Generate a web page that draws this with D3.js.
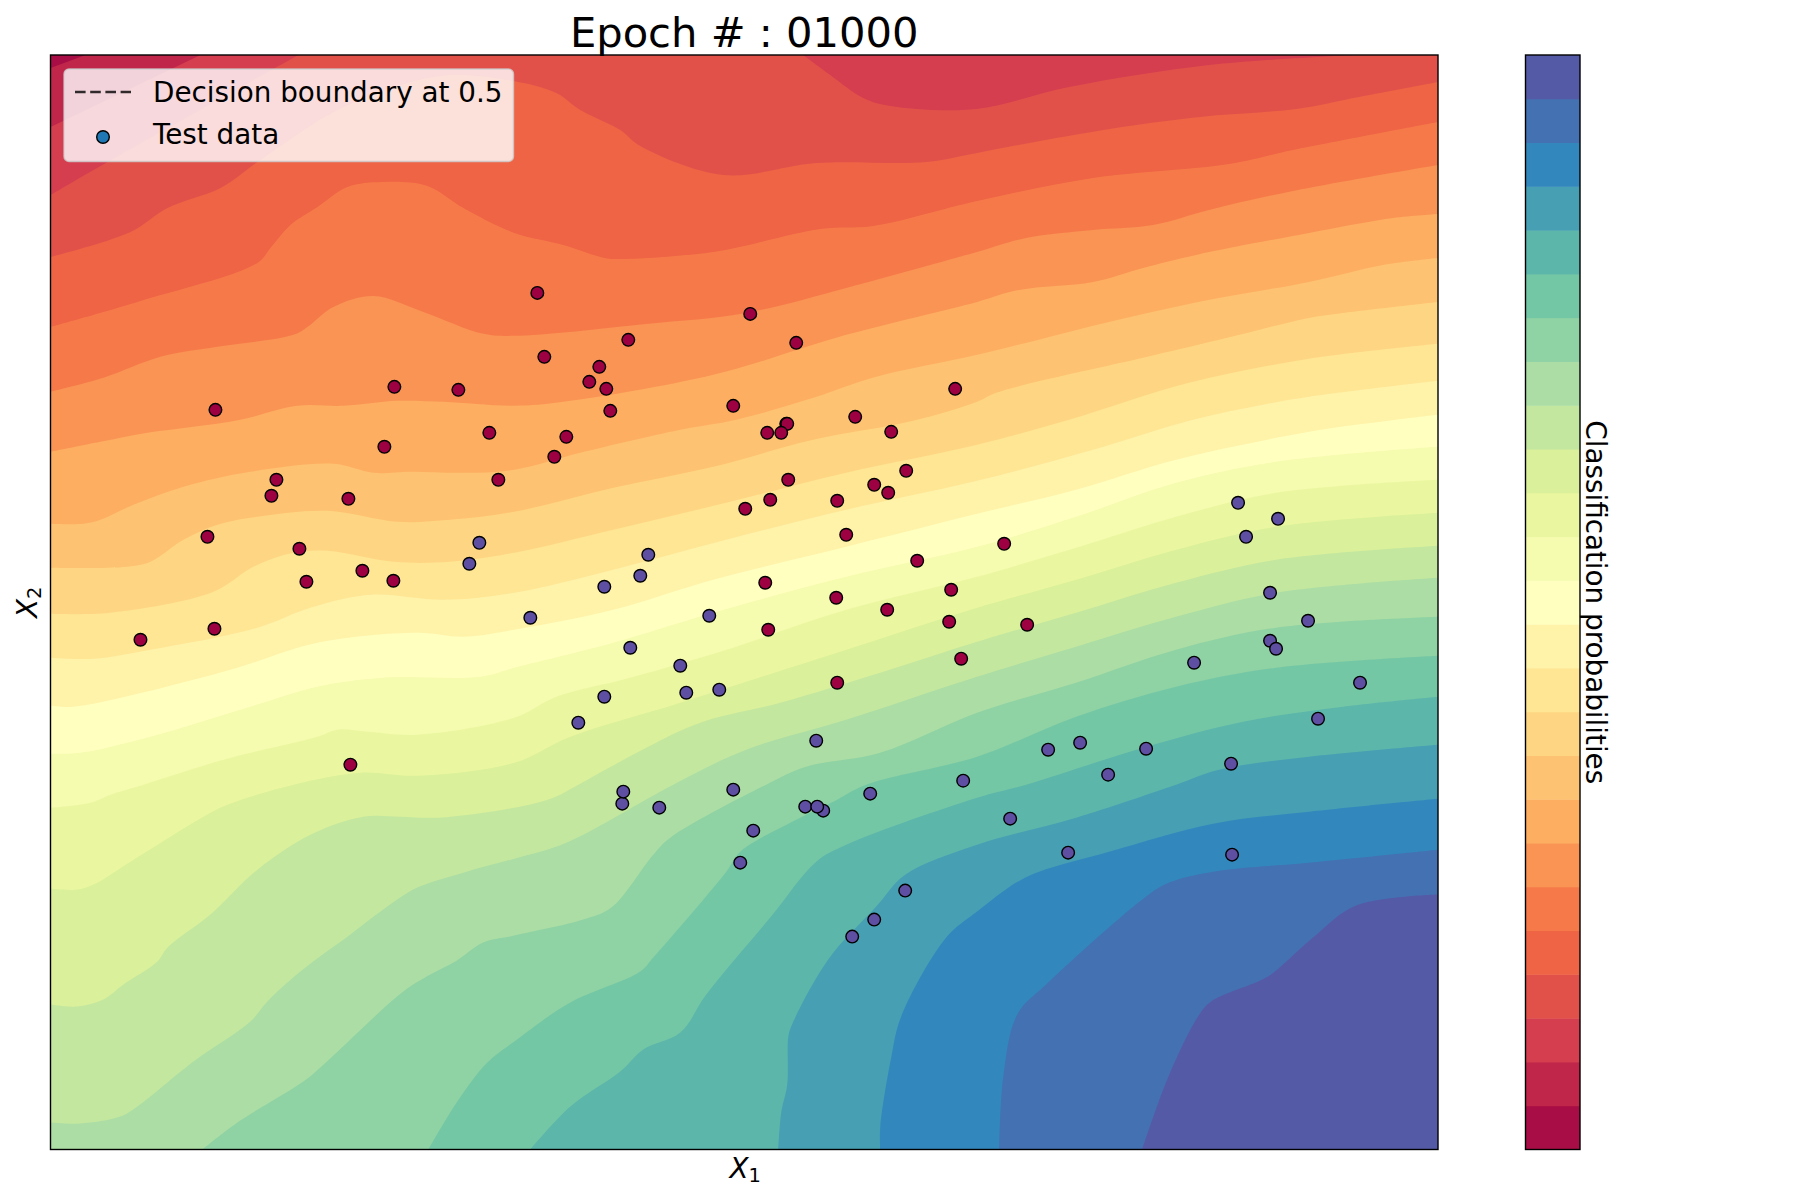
<!DOCTYPE html>
<html>
<head>
<meta charset="utf-8">
<title>Epoch # : 01000</title>
<script src="https://cdn.jsdelivr.net/npm/d3@7"></script>
<style>
  html, body { margin: 0; padding: 0; background: #fff; }
  text { font-family: "DejaVu Sans", sans-serif; fill: #000; }
</style>
</head>
<body>
<div id="chart"></div>
<script>
// Matplotlib "Spectral" anchor colours
const spectralStops = ['#9e0142', '#d53e4f', '#f46d43', '#fdae61', '#fee08b', '#ffffbf',
  '#e6f598', '#abdda4', '#66c2a5', '#3288bd', '#5e4fa2'];
const bandCount = 25;

// Contour lines between neighbouring bands, [X1, X2].
// Each one runs from the left/bottom edge to the top/right edge.
const level01 = [[0,1082],[35,1095]];
const level02 = [[0,1023],[150,1095]];
const level03 = [[0,955],[57,988],[248,1095]];
const level04 = [[0,893],[80,918],[117,942],[170,962],[207,988],[283,1038],[350,1065],[400,1075],[463,1069],[506,1057],[530,1040],[570,1020],[590,1004],[673,975],[766,987],[876,988],[927,997],[1006,1012],[1093,1026],[1159,1034],[1246,1041],[1309,1053],[1388,1068]];
const level05 = [[0,823],[87,848],[207,887],[220,902],[240,925],[267,943],[297,963],[333,968],[377,964],[413,942],[464,917],[513,905],[550,893],[563,891],[663,898],[770,921],[823,924],[927,949],[1043,972],[1179,986],[1243,1000],[1388,1028]];
const level06 = [[0,758],[53,772],[110,793],[167,803],[243,815],[257,823],[283,843],[323,854],[373,838],[433,816],[464,814],[596,826],[696,837],[796,862],[927,898],[976,912],[1043,920],[1103,925],[1159,940],[1243,959],[1388,985]];
const level07 = [[0,698],[50,708],[97,717],[143,723],[190,730],[247,744],[293,744],[347,749],[393,748],[464,744],[513,748],[663,775],[796,815],[927,848],[969,860],[1043,868],[1093,882],[1146,895],[1259,917],[1343,932],[1388,936]];
const level08 = [[0,626],[33,626],[50,630],[83,645],[133,663],[200,678],[283,686],[323,677],[360,678],[413,677],[464,680],[530,697],[630,720],[686,730],[763,752],[826,773],[927,795],[1059,828],[1153,849],[1259,868],[1333,885],[1388,892]];
const level09 = [[0,582],[77,583],[100,588],[133,610],[167,625],[207,633],[277,639],[347,628],[400,630],[464,638],[563,662],[663,683],[763,710],[863,729],[927,748],[946,757],[1093,792],[1169,810],[1259,832],[1293,837],[1388,848]];
const level10 = [[0,536],[60,537],[163,558],[203,583],[243,597],[277,599],[343,588],[400,588],[464,597],[563,620],[676,647],[796,677],[927,705],[1019,730],[1139,767],[1259,791],[1388,806]];
const level11 = [[0,492],[43,491],[100,500],[207,522],[260,542],[320,555],[393,550],[464,557],[563,580],[676,610],[796,640],[927,669],[1043,700],[1143,730],[1213,745],[1259,753],[1388,769]];
const level12 = [[0,444],[23,443],[83,455],[187,482],[267,507],[367,517],[413,513],[464,520],[563,540],[663,570],[796,603],[927,636],[1026,660],[1126,690],[1259,718],[1346,730],[1388,735]];
const level13 = [[0,396],[30,397],[100,413],[200,443],[267,463],[333,472],[430,473],[464,482],[563,507],[663,537],[796,573],[927,603],[1026,633],[1126,667],[1226,688],[1388,703]];
const level14 = [[0,342],[40,347],[60,355],[93,365],[173,390],[267,413],[287,420],[317,418],[367,415],[464,432],[506,453],[580,472],[676,500],[796,540],[927,573],[1026,602],[1126,633],[1226,657],[1388,670]];
const level15 = [[0,261],[27,260],[43,265],[80,288],[153,333],[177,345],[243,365],[310,377],[367,374],[464,387],[520,413],[630,447],[796,500],[927,542],[1026,570],[1126,600],[1226,623],[1388,637]];
const level16 = [[0,145],[27,143],[53,150],[73,165],[107,188],[117,202],[160,235],[207,280],[260,315],[313,333],[350,333],[388,332],[464,342],[503,352],[528,365],[596,402],[650,427],[730,447],[830,477],[927,508],[1026,537],[1126,567],[1226,590],[1388,604]];
const level17 = [[0,27],[30,26],[70,33],[87,43],[143,88],[200,128],[217,148],[250,178],[300,215],[337,243],[367,262],[413,277],[464,291],[516,307],[623,365],[696,400],[796,430],[927,473],[1026,503],[1126,533],[1226,557],[1388,572]];
const level18 = [[152,0],[187,27],[253,68],[270,82],[353,158],[380,175],[405,188],[433,207],[464,214],[533,230],[561,242],[603,295],[620,312],[716,365],[756,383],[830,397],[927,437],[1026,467],[1126,500],[1226,522],[1388,533]];
const level19 = [[378,0],[407,48],[437,87],[464,108],[520,147],[590,178],[603,192],[676,278],[690,298],[750,332],[783,348],[816,365],[927,393],[1026,433],[1126,463],[1226,482],[1388,494]];
const level20 = [[480,0],[520,43],[570,78],[593,100],[630,117],[656,155],[720,232],[766,288],[796,305],[927,352],[976,365],[1093,402],[1193,428],[1293,443],[1388,453]];
const level21 = [[728,0],[731,37],[737,65],[738,112],[741,123],[778,190],[826,243],[855,275],[927,305],[1026,332],[1126,365],[1169,380],[1259,393],[1388,405]];
const level22 = [[830,0],[830,22],[841,92],[851,133],[896,212],[927,238],[966,267],[989,278],[1059,298],[1163,326],[1259,338],[1388,351]];
const level23 = [[949,0],[953,72],[967,135],[996,165],[1096,253],[1119,267],[1163,278],[1259,287],[1388,300]];
const level24 = [[1092,0],[1118,72],[1148,133],[1161,148],[1208,168],[1221,175],[1263,212],[1306,244],[1388,255]];

const contourLevels = [level01, level02, level03, level04, level05, level06, level07, level08,
  level09, level10, level11, level12, level13, level14, level15, level16,
  level17, level18, level19, level20, level21, level22, level23, level24];

// Darker pocket on the top edge, belongs to band 2
const pocketBand = 2;
const pocketLine = [[753,1095],[780,1075],[813,1052],[840,1044],[926,1041],[1019,1063],[1159,1085],[1306,1095]];

// Test points [X1, X2]
const class0Points = [[165,740],[344,763],[408,760],[487,857],[494,793],[578,810],[549,783],[539,768],[556,761],[560,739],
  [700,836],[746,807],[905,761],[683,744],[736,726],[805,733],[439,717],[334,703],[226,670],[221,654],[448,670],[298,651],
  [157,613],[249,601],[312,579],[343,569],[256,568],[164,521],[90,510],[300,385],[516,713],[504,693],[737,726],[717,717],[731,717],
  [841,718],[856,679],[738,670],[824,665],[838,657],[720,650],[695,641],[787,649],[796,615],[867,589],[715,567],[786,552],
  [837,540],[901,560],[899,528],[911,491],[718,520],[787,467],[954,606],[977,525]];
const class1Points = [[429,607],[419,586],[598,595],[590,574],[554,563],[480,532],[659,534],[580,502],[630,484],[636,457],
  [669,460],[554,453],[528,427],[766,409],[913,369],[1188,647],[1228,631],[1196,613],[1220,557],[1258,529],[1220,509],[1226,501],
  [1144,487],[1310,467],[1268,431],[998,400],[1030,407],[1096,401],[1058,375],[1181,386],[572,346],[573,358],[609,342],[683,360],
  [703,319],[690,287],[773,339],[755,343],[767,343],[820,356],[855,259],[824,230],[802,213],[960,331],[1018,297],[1182,295]];

// Colourbar tick for the 0.5 boundary, in band units
const boundaryTick = 12.17;

const titleText = 'Epoch # : 01000';
const legendLineLabel = 'Decision boundary at 0.5';
const legendPointLabel = 'Test data';
const colorbarLabel = 'Classification probabilities';

const plot = { left: 50.5, right: 1438, top: 55, bottom: 1149.5 };
const bar = { left: 1525.5, right: 1580 };

const svg = d3.select('#chart')
  .append('svg')
  .attr('width', 1800)
  .attr('height', 1200)
  .style('display', 'block');

const x = d3.scaleLinear().domain([0, 1388]).range([plot.left, plot.right]);
const y = d3.scaleLinear().domain([0, 1095]).range([plot.bottom, plot.top]);
const barY = d3.scaleLinear().domain([0, bandCount]).range([plot.bottom, plot.top]);

const spectral = d3.scaleLinear()
  .domain(d3.range(spectralStops.length).map(i => i / (spectralStops.length - 1)))
  .range(spectralStops);
const bandColor = i => spectral((i + 0.5) / bandCount);

const line = d3.line().x(d => x(d[0])).y(d => y(d[1])).curve(d3.curveCatmullRom.alpha(0.5));

// Close a contour round the lower right side of the frame
function regionPath(pts) {
  const xMax = x.domain()[1], yMax = y.domain()[1];
  const first = pts[0], last = pts[pts.length - 1];
  const corners = [];
  if (last[1] === yMax && last[0] < xMax) corners.push([xMax, yMax]);
  corners.push([xMax, 0]);
  if (first[0] === 0) corners.push([0, 0]);
  return line(pts) + corners.map(c => `L${x(c[0])},${y(c[1])}`).join('') + 'Z';
}

// Filled bands, painted from the red corner to the blue corner
const field = svg.append('g').attr('class', 'bands');

field.append('rect')
  .attr('x', plot.left)
  .attr('y', plot.top)
  .attr('width', plot.right - plot.left)
  .attr('height', plot.bottom - plot.top)
  .attr('fill', bandColor(0));

field.selectAll('path.band')
  .data(contourLevels)
  .enter()
  .append('path')
  .attr('class', 'band')
  .attr('d', regionPath)
  .attr('fill', (d, i) => bandColor(i + 1));

// Pocket goes over band 3, but under bands 4 and up
field.insert('path', 'path.band:nth-of-type(4)')
  .attr('d', line(pocketLine) + 'Z')
  .attr('fill', bandColor(pocketBand));

// Test points
const points = svg.append('g').attr('class', 'points');

function addPoints(data, color) {
  points.selectAll(null)
    .data(data)
    .enter()
    .append('circle')
    .attr('cx', d => x(d[0]))
    .attr('cy', d => y(d[1]))
    .attr('r', 6.3)
    .attr('fill', color)
    .attr('stroke', '#000')
    .attr('stroke-width', 1.4);
}
addPoints(class0Points, spectralStops[0]);
addPoints(class1Points, spectralStops[10]);

// Plot frame
svg.append('rect')
  .attr('x', plot.left)
  .attr('y', plot.top)
  .attr('width', plot.right - plot.left)
  .attr('height', plot.bottom - plot.top)
  .attr('fill', 'none')
  .attr('stroke', '#000')
  .attr('stroke-width', 1.4);

// Legend
const legend = svg.append('g').attr('class', 'legend');

legend.append('rect')
  .attr('x', 64)
  .attr('y', 69)
  .attr('width', 449.5)
  .attr('height', 92.5)
  .attr('rx', 5)
  .attr('ry', 5)
  .attr('fill', '#fff')
  .attr('fill-opacity', 0.8)
  .attr('stroke', '#ccc')
  .attr('stroke-opacity', 0.8)
  .attr('stroke-width', 1.4);

legend.append('line')
  .attr('x1', 75)
  .attr('x2', 131)
  .attr('y1', 92)
  .attr('y2', 92)
  .attr('stroke', '#000')
  .attr('stroke-opacity', 0.8)
  .attr('stroke-width', 2.6)
  .attr('stroke-dasharray', '10.6 4.6');

legend.append('circle')
  .attr('cx', 103)
  .attr('cy', 137)
  .attr('r', 6.3)
  .attr('fill', '#1f77b4')
  .attr('stroke', '#000')
  .attr('stroke-width', 1.4);

legend.append('text')
  .attr('x', 153)
  .attr('y', 102)
  .style('font-size', '27.8px')
  .text(legendLineLabel);

legend.append('text')
  .attr('x', 153)
  .attr('y', 144)
  .style('font-size', '27.8px')
  .text(legendPointLabel);

// Title and axis labels
svg.append('text')
  .attr('x', (plot.left + plot.right) / 2)
  .attr('y', 47)
  .attr('text-anchor', 'middle')
  .style('font-size', '41.67px')
  .text(titleText);

function axisLabel(sel, sub) {
  sel.attr('text-anchor', 'middle').style('font-size', '27.8px');
  sel.append('tspan').style('font-style', 'italic').text('X');
  sel.append('tspan').attr('dy', 4).style('font-size', '19.5px').text(sub);
}

svg.append('text')
  .attr('x', (plot.left + plot.right) / 2 + 1)
  .attr('y', 1178)
  .call(axisLabel, '1');

svg.append('text')
  .attr('transform', `translate(37,${(plot.top + plot.bottom) / 2}) rotate(-90)`)
  .call(axisLabel, '2');

// Colourbar
const colorbar = svg.append('g').attr('class', 'colorbar');

colorbar.selectAll('rect')
  .data(d3.range(bandCount))
  .enter()
  .append('rect')
  .attr('x', bar.left)
  .attr('y', d => barY(d + 1))
  .attr('width', bar.right - bar.left)
  .attr('height', d => barY(d) - barY(d + 1) + 0.5)
  .attr('fill', d => bandColor(d));

colorbar.append('rect')
  .attr('x', bar.left)
  .attr('y', plot.top)
  .attr('width', bar.right - bar.left)
  .attr('height', plot.bottom - plot.top)
  .attr('fill', 'none')
  .attr('stroke', '#000')
  .attr('stroke-width', 1.4);

colorbar.append('line')
  .attr('x1', bar.right)
  .attr('x2', bar.right + 5)
  .attr('y1', barY(boundaryTick))
  .attr('y2', barY(boundaryTick))
  .attr('stroke', '#000')
  .attr('stroke-width', 1.4);

svg.append('text')
  .attr('transform', `translate(1586,${(plot.top + plot.bottom) / 2}) rotate(90)`)
  .attr('text-anchor', 'middle')
  .style('font-size', '27.8px')
  .text(colorbarLabel);
</script>
</body>
</html>
